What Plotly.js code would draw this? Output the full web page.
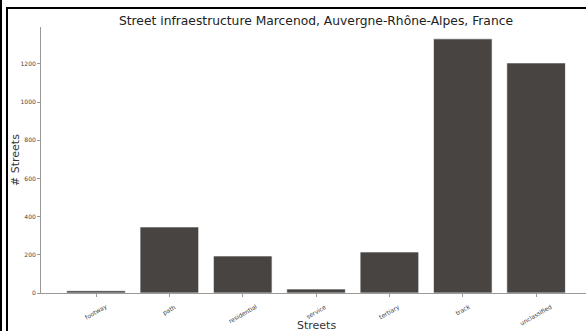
<!DOCTYPE html>
<html><head><meta charset="utf-8">
<script src="https://cdn.plot.ly/plotly-3.0.1.min.js"></script>
<style>
html,body{margin:0;padding:0;background:#fff;}
#wrap{position:relative;width:586px;height:331px;overflow:hidden;}
#chart{position:absolute;left:0;top:0;width:586px;height:331px;}
.b{position:absolute;background:#000;}
</style></head>
<body>
<div id="wrap">
<div id="chart"></div>
<div class="b" style="left:0;top:0;width:2px;height:331px;"></div>
<div class="b" style="left:6px;top:7px;width:2px;height:324px;"></div>
<div class="b" style="left:6px;top:7px;width:580px;height:2px;"></div>
</div>
<script>
var categories = ["footway","path","residential","service","tertiary","track","unclassified"];
var counts = [12, 346, 194, 21, 215, 1331, 1205];
var yTicks = [0,200,400,600,800,1000,1200];

var trace = {
  type:'bar', x:categories, y:counts, width:0.8,
  marker:{color:'#474441', line:{color:'rgba(255,255,255,0.7)', width:1}},
  hoverinfo:'none'
};
var tickAnns = categories.map(function(c){
  return {text:c, xref:'x', yref:'paper', x:c, y:-0.026, xanchor:'center', yanchor:'top',
    textangle:-30, showarrow:false, font:{size:6, color:'#444'}};
});
var layout = {
  width:586, height:331,
  margin:{l:41, r:0, t:27, b:38},
  paper_bgcolor:'rgba(0,0,0,0)', plot_bgcolor:'#fff',
  showlegend:false,
  font:{family:'DejaVu Sans', color:'#333'},
  title:{text:'Street infraestructure Marcenod, Auvergne-Rhône-Alpes, France',
    font:{size:12.3, color:'#222', family:'DejaVu Sans'},
    x:0.5046, xref:'paper', xanchor:'center', y:0.938, yref:'container', yanchor:'middle'},
  xaxis:{type:'category', range:[-0.75, 6.68], showline:true, linecolor:'#999', linewidth:1,
    ticks:'outside', ticklen:3, tickcolor:'#999', showticklabels:false,
    showgrid:false, zeroline:false},
  yaxis:{range:[0,1393], tickvals:yTicks, showline:true, linecolor:'#999', linewidth:1,
    ticks:'outside', ticklen:3, tickcolor:'#999', tickfont:{size:6, color:'#444'},
    showgrid:false, zeroline:false},
  annotations:tickAnns.concat([
    {text:'Streets', xref:'paper', yref:'paper', x:0.5046, y:-0.122, xanchor:'center', yanchor:'middle',
     showarrow:false, font:{size:11, color:'#333'}},
    {text:'# Streets', xref:'paper', yref:'paper', x:-0.0477, y:0.5, xanchor:'center', yanchor:'middle',
     textangle:-90, showarrow:false, font:{size:11, color:'#333'}}
  ])
};
Plotly.newPlot('chart',[trace],layout,{displayModeBar:false, staticPlot:true});
</script>
</body></html>
